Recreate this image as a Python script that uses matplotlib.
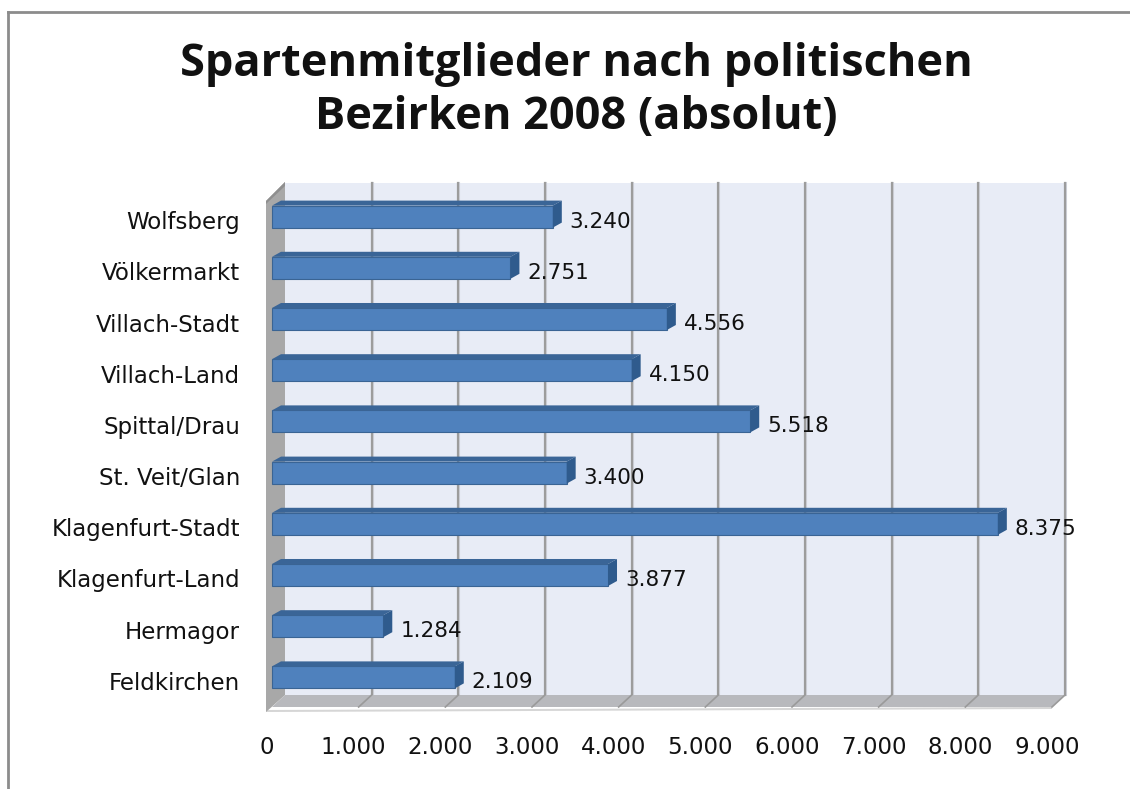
import matplotlib
matplotlib.use("Agg")
import matplotlib.pyplot as plt
from matplotlib.patches import Polygon
from matplotlib.lines import Line2D
from matplotlib.transforms import IdentityTransform

# data, bottom to top as drawn
districts = ["Feldkirchen", "Hermagor", "Klagenfurt-Land", "Klagenfurt-Stadt",
             "St. Veit/Glan", "Spittal/Drau", "Villach-Land", "Villach-Stadt",
             "Völkermarkt", "Wolfsberg"]
members = [2109, 1284, 3877, 8375, 3400, 5518, 4150, 4556, 2751, 3240]
x_ticks = [0, 1000, 2000, 3000, 4000, 5000, 6000, 7000, 8000, 9000]
title = "Spartenmitglieder nach politischen\nBezirken 2008 (absolut)"

W, H = 1130, 789
fig = plt.figure(figsize=(W / 100, H / 100), dpi=100)

# front plane of the 3d box, in pixels (top-down coords from the picture)
fx0, fx1, fy_top, fy_bot = 272, 1052, 195, 707
ax = fig.add_axes([fx0 / W, (H - fy_bot) / H, (fx1 - fx0) / W, (fy_bot - fy_top) / H])
ax.set_xlim(0, 9000)
ax.set_ylim(-0.5, len(districts) - 0.5)
ax.set_axis_off()

DX, DY = 13, 12          # depth of the box (pixels)
BDX, BDY = 9, 5          # depth of a bar
BH = 0.43                # bar thickness in category units
BUP = 4                  # bars sit slightly behind the front plane

ident = IdentityTransform()


def px(x, y, dx=0, dy=0):
    p = ax.transData.transform((x, y))
    return (p[0] + dx, p[1] + dy)


def poly(pts, color, z, ec="none", lw=0):
    fig.add_artist(Polygon(pts, closed=True, facecolor=color, edgecolor=ec,
                           linewidth=lw, transform=ident, zorder=z))


y0, y1 = -0.5, len(districts) - 0.5

# back wall
poly([px(0, y0, DX, DY), px(9000, y0, DX, DY), px(9000, y1, DX, DY), px(0, y1, DX, DY)],
     "#e8ecf6", 1)
# gridlines on back wall
for t in x_ticks[1:]:
    a = px(t, y0, DX, DY)
    b = px(t, y1, DX, DY)
    fig.add_artist(Line2D([a[0] + 1, b[0] + 1], [a[1], b[1]], color="#d0d3da", lw=1.5,
                          transform=ident, zorder=2))
    fig.add_artist(Line2D([a[0], b[0]], [a[1], b[1]], color="#9c9c9c", lw=1.6,
                          transform=ident, zorder=2))

# floor
poly([px(0, y0), px(9000, y0), px(9000, y0, DX, DY), px(0, y0, DX, DY)], "#b8b9bd", 3)
poly([px(0, y0, -6, -3), px(9000, y0), px(9000, y0, 0, -2), px(0, y0, -6, -5)], "#d6d6d6", 3)
for t in x_ticks[1:]:
    a = px(t, y0)
    b = px(t, y0, DX, DY)
    fig.add_artist(Line2D([a[0], b[0]], [a[1], b[1]], color="#9a9a9a", lw=1.2,
                          transform=ident, zorder=3.5))

# left wall (with some thickness)
poly([px(0, y0, -6, -5), px(0, y0, DX, DY), px(0, y1, DX, DY + 1), px(0, y1, -6, -6)],
     "#a8a8a8", 4)
poly([px(0, y1, -6, -6), px(0, y1, DX, DY + 1), px(0, y1, DX, DY - 3), px(0, y1, -6, -9)],
     "#8f8f8f", 4)

# bars
for i, v in enumerate(members):
    lo = i - BH / 2
    hi = i + BH / 2
    poly([px(0, lo, 0, BUP), px(v, lo, 0, BUP), px(v, hi, 0, BUP), px(0, hi, 0, BUP)],
         "#4f81bd", 5, ec="#3a6494", lw=0.8)
    poly([px(0, hi, 0, BUP), px(v, hi, 0, BUP), px(v, hi, BDX, BUP + BDY), px(0, hi, BDX, BUP + BDY)],
         "#3a6597", 5)
    poly([px(v, lo, 0, BUP), px(v, lo, BDX, BUP + BDY), px(v, hi, BDX, BUP + BDY), px(v, hi, 0, BUP)],
         "#2f5b8d", 5)
    lx, ly = px(v, i, 17, -1)
    fig.text(lx / W, ly / H, f"{v:,}".replace(",", "."), ha="left", va="center",
             fontsize=15.5, family="DejaVu Sans", color="#111111", zorder=6)

# category labels
for i, name in enumerate(districts):
    lx, ly = px(0, i, -32, -2)
    fig.text(lx / W, ly / H, name, ha="right", va="center", fontsize=16.5,
             family="DejaVu Sans", color="#111111")

# value axis labels
for t in x_ticks:
    lx, ly = px(t, y0, -5, -40)
    fig.text(lx / W, ly / H, f"{t:,}".replace(",", "."), ha="center", va="center",
             fontsize=16.5, family="DejaVu Sans", color="#111111")

# title
fig.text(576 / W, (H - 91) / H, title, ha="center", va="center", fontsize=32.5,
         fontweight="bold", family="Open Sans", linespacing=1.22, color="#111111")

# chart frame (cropped on the right and bottom)
fig.add_artist(Line2D([8, 8], [0, H - 12], color="#8c8c8c", lw=2, transform=ident))
fig.add_artist(Line2D([8, W], [H - 12, H - 12], color="#8c8c8c", lw=2, transform=ident))

fig.savefig("out.png", dpi=100)
